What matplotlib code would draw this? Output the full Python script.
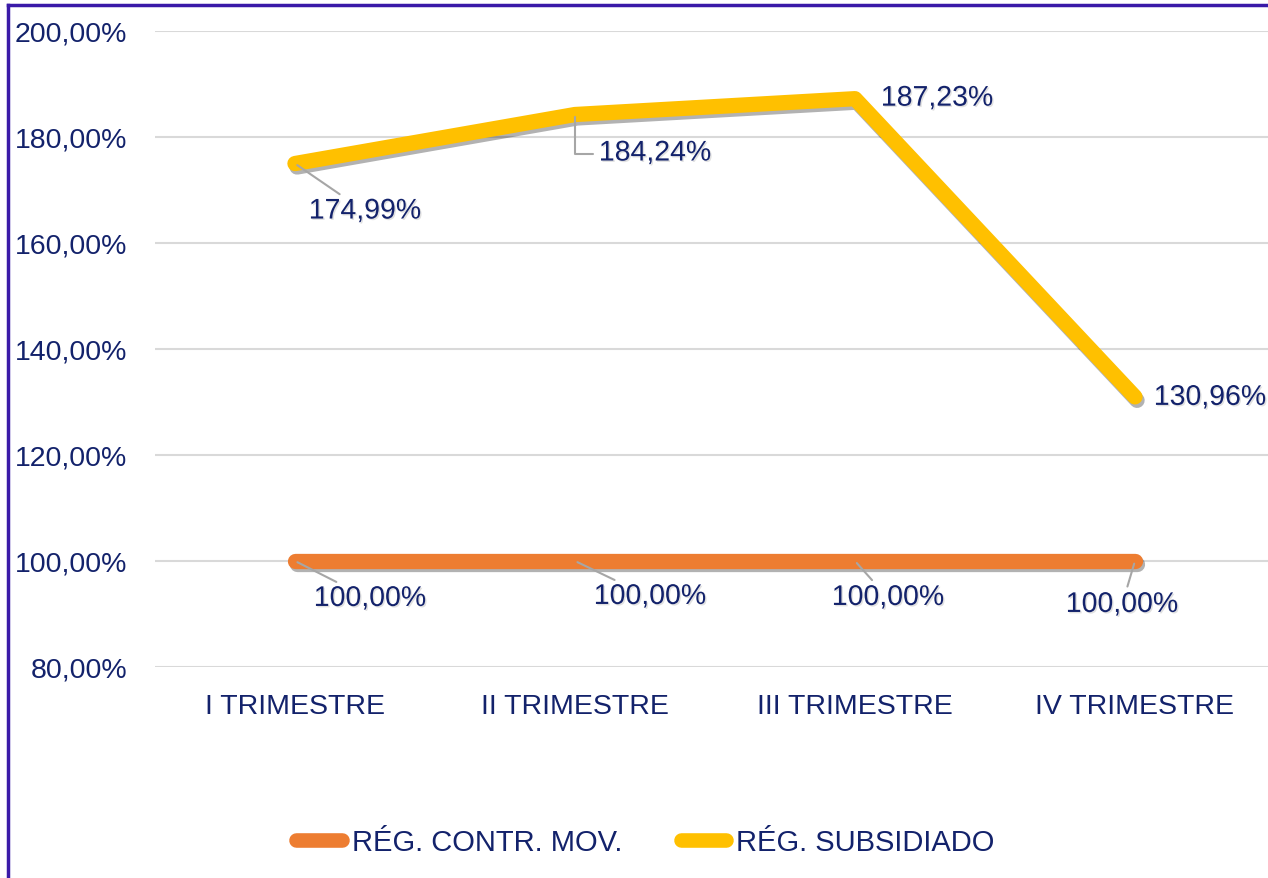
import matplotlib
import matplotlib.pyplot as plt
import matplotlib.patheffects as pe
from matplotlib.lines import Line2D

matplotlib.use('Agg')
plt.rcParams['font.family'] = ['Liberation Sans', 'DejaVu Sans']

categories = ['I TRIMESTRE', 'II TRIMESTRE', 'III TRIMESTRE', 'IV TRIMESTRE']
contributivo = [100.00, 100.00, 100.00, 100.00]
subsidiado = [174.99, 184.24, 187.23, 130.96]
series_names = ['RÉG. CONTR. MOV.', 'RÉG. SUBSIDIADO']
y_ticks = [80, 100, 120, 140, 160, 180, 200]

text_color = '#13226b'
orange = '#ED7D31'
yellow = '#FFC000'


def pct(v):
    return f'{v:.2f}'.replace('.', ',') + '%'


fig = plt.figure(figsize=(12.68, 8.79), dpi=100)
ax = fig.add_axes([0.1222, 0.2401, 0.8833, 0.7235])

x = list(range(len(categories)))
shadow = [pe.SimpleLineShadow(offset=(1.5, -2.5), shadow_color='#000000', alpha=0.3), pe.Normal()]
ax.plot(x, contributivo, color=orange, linewidth=11, solid_capstyle='round',
        solid_joinstyle='round', path_effects=shadow, zorder=3)
ax.plot(x, subsidiado, color=yellow, linewidth=11, solid_capstyle='round',
        solid_joinstyle='round', path_effects=shadow, zorder=3)

ax.set_xlim(-0.5, 3.5)
ax.set_ylim(80, 200)
ax.set_yticks(y_ticks)
ax.set_yticklabels([pct(v) for v in y_ticks])
ax.set_xticks(x)
ax.set_xticklabels(categories)
ax.tick_params(axis='both', length=0, labelsize=20.5, labelcolor=text_color)
ax.tick_params(axis='y', pad=20)
ax.tick_params(axis='x', pad=19)
ax.grid(axis='y', color='#d9d9d9', linewidth=1.5)
ax.set_axisbelow(True)
for s in ax.spines.values():
    s.set_visible(False)

txt_fx = [pe.withSimplePatchShadow(offset=(1, -1), shadow_rgbFace='#888888', alpha=0.25)]
leader = dict(arrowstyle='-', color='#a6a6a6', linewidth=1.5, shrinkA=2, shrinkB=2)

# label offsets in pixels, and whether a leader line is drawn
yellow_offsets = [(70, -48, True), (80, -39, 'elbow'), (82, 0, False), (75, -1, False)]
orange_offsets = [(75, -38, True), (75, -36, True), (33, -37, True), (-13, -44, True)]

for vals, offs in [(subsidiado, yellow_offsets), (contributivo, orange_offsets)]:
    for xi, v, (dx, dy, lead) in zip(x, vals, offs):
        kw = {}
        if lead == 'elbow':
            kw['arrowprops'] = dict(leader, relpos=(0, 0.5),
                                    connectionstyle='angle,angleA=0,angleB=90,rad=0')
        elif lead:
            kw['arrowprops'] = dict(leader)
        ax.annotate(pct(v), xy=(xi, v), xytext=(dx, dy), textcoords='offset pixels',
                    ha='center', va='center', fontsize=20.5, color=text_color,
                    path_effects=txt_fx, zorder=4, annotation_clip=False, **kw)

handles = [Line2D([], [], color=orange, linewidth=10.5, solid_capstyle='round'),
           Line2D([], [], color=yellow, linewidth=10.5, solid_capstyle='round')]
leg = fig.legend(handles, series_names, loc='center', bbox_to_anchor=(0.509, 0.041),
                 ncol=2, frameon=False, fontsize=21, handlelength=1.55,
                 handletextpad=0.35, columnspacing=2.0)
for t in leg.get_texts():
    t.set_color(text_color)

# purple frame on top and left edges
fig.add_artist(Line2D([0.0063, 1], [0.9932, 0.9932], color='#3a1aa8', linewidth=2.5,
                      transform=fig.transFigure))
fig.add_artist(Line2D([0.0063, 0.0063], [0, 0.9932], color='#3a1aa8', linewidth=2.5,
                      transform=fig.transFigure))

fig.savefig('out.png', dpi=100)
plt.close(fig)
